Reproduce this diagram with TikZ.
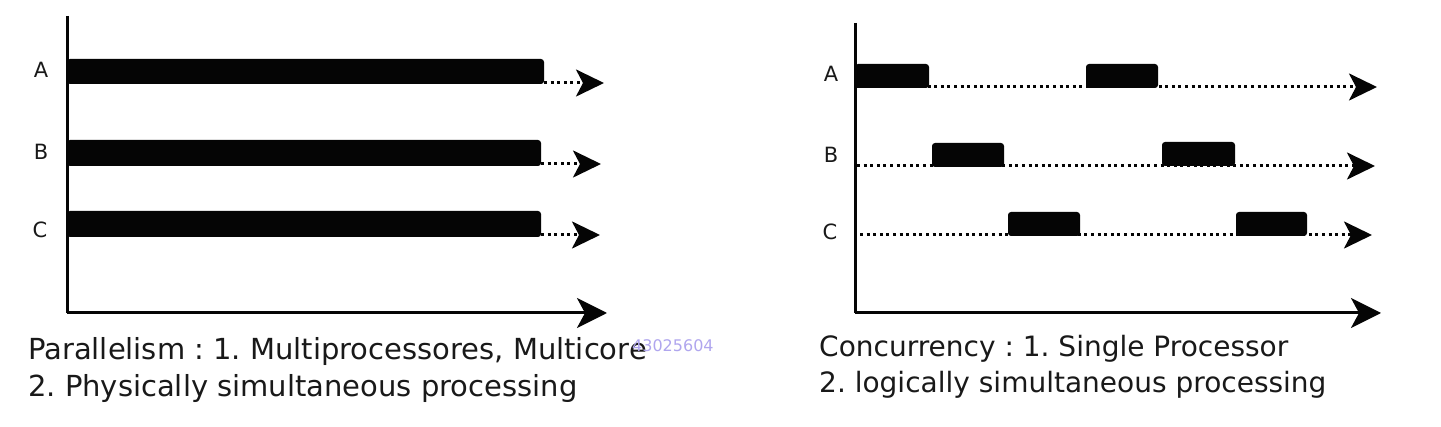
\documentclass[tikz,border=0pt]{standalone}
\usepackage{fontspec}
\setmainfont{DejaVu Sans}
\usetikzlibrary{arrows.meta}
\definecolor{wm}{RGB}{176,166,238}
\definecolor{ink}{RGB}{5,5,5}
\definecolor{txt}{RGB}{25,25,25}
\frenchspacing
\begin{document}
\begin{tikzpicture}[x=1pt,y=-1pt,
  axisline/.style={line width=3pt,ink,-{Stealth[length=30pt,width=30pt,inset=8pt]}},
  dotline/.style={line width=3pt,ink,dash pattern=on 3pt off 3.6pt,-{Stealth[length=28pt,width=27pt,inset=7pt]}},
  barbox/.style={fill=ink,rounded corners=3pt},
  lab/.style={font=\fontsize{21}{24}\selectfont,txt,inner sep=0pt},
  caption/.style={font=\fontsize{28}{34}\selectfont,txt,inner sep=0pt,anchor=base west},
  lcaption/.style={caption,font=\fontsize{29}{34}\selectfont},
  wmark/.style={font=\fontsize{16}{18}\selectfont,wm,inner sep=0pt,anchor=west}]
\useasboundingbox (0,0) rectangle (1441,427);
\fill[white] (0,0) rectangle (1441,427);

% ---------- left panel ----------
\coordinate (Ltop) at (67,16);
\coordinate (Lorg) at (67,313);
\coordinate (Lend) at (607,313);
\draw[line width=3pt,ink] (Ltop) -- (Lorg);
\draw[axisline] (Lorg) -- (Lend);

\node[lab] (LA) at (41,70) {A};
\node[lab] (LB) at (41,152) {B};
\node[lab] (LC) at (40,230) {C};

\path[barbox] (67,59) rectangle (544,84);
\path[barbox] (67,140) rectangle (541,166);
\path[barbox] (67,211) rectangle (541,237);

\coordinate (LAs) at (544,83); \coordinate (LAe) at (604,83);
\coordinate (LBs) at (541,164); \coordinate (LBe) at (601,164);
\coordinate (LCs) at (541,235); \coordinate (LCe) at (600,235);
\draw[dotline] (LAs) -- (LAe);
\draw[dotline] (LBs) -- (LBe);
\draw[dotline] (LCs) -- (LCe);

\node[lcaption] (Lt1) at (28,360) {Parallelism : 1. Multiprocessores, Multicore};
\node[lcaption] (Lt2) at (28,397) {2. Physically simultaneous processing};
\node[wmark] (WM) at (632,346) {43025604};

% ---------- right panel ----------
\coordinate (Rtop) at (855,23);
\coordinate (Rorg) at (855,313);
\coordinate (Rend) at (1381,313);
\draw[line width=3pt,ink] (Rtop) -- (Rorg);
\draw[axisline] (Rorg) -- (Rend);

\node[lab] (RA) at (831,74) {A};
\node[lab] (RB) at (831,155) {B};
\node[lab] (RC) at (830,232) {C};

\coordinate (RAs) at (855,87);  \coordinate (RAe) at (1377,87);
\coordinate (RBs) at (857,166); \coordinate (RBe) at (1375,166);
\coordinate (RCs) at (860,235); \coordinate (RCe) at (1372,235);
\draw[dotline] (RAs) -- (RAe);
\draw[dotline] (RBs) -- (RBe);
\draw[dotline] (RCs) -- (RCe);

\path[barbox] (855,64) rectangle (929,88);
\path[barbox] (1086,64) rectangle (1158,88);
\path[barbox] (932,143) rectangle (1004,167);
\path[barbox] (1162,142) rectangle (1235,166);
\path[barbox] (1008,212) rectangle (1080,236);
\path[barbox] (1236,212) rectangle (1307,236);

\node[caption] (Rt1) at (819,357) {Concurrency : 1. Single Processor};
\node[caption] (Rt2) at (819,393) {2. logically simultaneous processing};
\end{tikzpicture}
\end{document}
